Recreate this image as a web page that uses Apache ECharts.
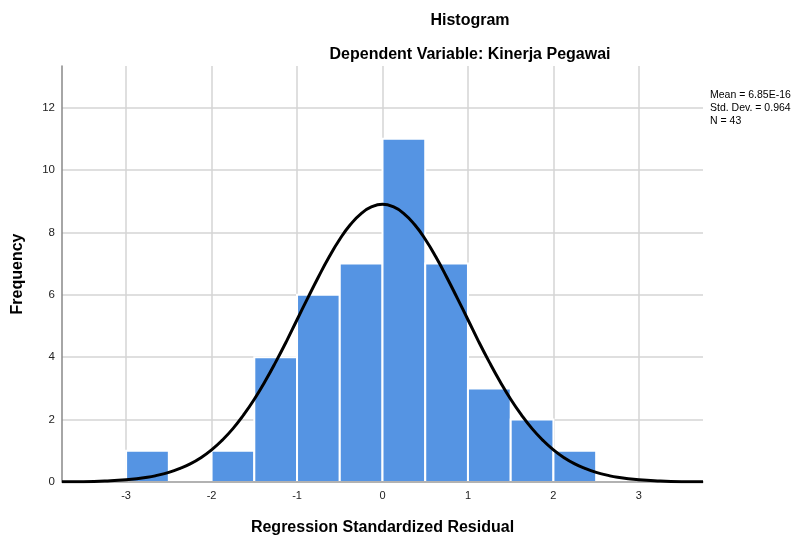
<!DOCTYPE html>
<html>
<head>
<meta charset="utf-8">
<script src="https://cdn.jsdelivr.net/npm/echarts@6/dist/echarts.min.js"></script>
<style>html,body{margin:0;padding:0;background:#fff}#c{width:806px;height:541px}</style>
</head>
<body>
<div id="c"></div>
<script>
// Histogram bins (lower edge) and frequencies
const binStarts = [-3.0, -2.5, -2.0, -1.5, -1.0, -0.5, 0.0, 0.5, 1.0, 1.5, 2.0];
const binWidth = 0.5;
const frequencies = [1, 0, 1, 4, 6, 7, 11, 7, 3, 2, 1];
// Normal curve
const curveX = [-3.75, -3.5, -3.25, -3.0, -2.75, -2.625, -2.5, -2.375, -2.25, -2.125, -2.0, -1.875, -1.75, -1.625, -1.5, -1.375,
                -1.25, -1.125, -1.0, -0.875, -0.75, -0.625, -0.5, -0.375, -0.25, -0.125, 0.0,
                0.125, 0.25, 0.375, 0.5, 0.625, 0.75, 0.875, 1.0, 1.125, 1.25, 1.375, 1.5, 1.625, 1.75, 1.875,
                2.0, 2.125, 2.25, 2.375, 2.5, 2.625, 2.75, 3.0, 3.25, 3.5, 3.75];
const curveY = [0.005, 0.01, 0.03, 0.07, 0.15, 0.22, 0.31, 0.43, 0.58, 0.78, 1.03, 1.34, 1.71, 2.15, 2.65, 3.22,
                3.84, 4.50, 5.20, 5.89, 6.57, 7.21, 7.78, 8.25, 8.60, 8.82, 8.90,
                8.82, 8.60, 8.25, 7.78, 7.21, 6.57, 5.89, 5.20, 4.50, 3.84, 3.22, 2.65, 2.15, 1.71, 1.34,
                1.03, 0.78, 0.58, 0.43, 0.31, 0.22, 0.15, 0.07, 0.03, 0.01, 0.005];
const xTickValues = [-3, -2, -1, 0, 1, 2, 3];
const yTickValues = [0, 2, 4, 6, 8, 10, 12];
const statsLines = ['Mean = 6.85E-16', 'Std. Dev. = 0.964', 'N = 43'];

const FONT = '"Liberation Sans", Arial, sans-serif';
const chart = echarts.init(document.getElementById('c'), null, {renderer: 'canvas'});

const barData = binStarts.map((s, i) => [s, s + binWidth, frequencies[i]]);
const curveData = curveX.map((x, i) => [x, curveY[i]]);
const gridLineData = xTickValues.map(v => ({xAxis: v}))
  .concat(yTickValues.filter(v => v > 0).map(v => ({yAxis: v})));

chart.setOption({
  animation: false,
  backgroundColor: '#ffffff',
  title: [
    {text: 'Histogram', left: 465, top: 8, textAlign: 'center',
     textStyle: {fontFamily: FONT, fontSize: 16, fontWeight: 'bold', color: '#000'}},
    {text: 'Dependent Variable: Kinerja Pegawai', left: 465, top: 42, textAlign: 'center',
     textStyle: {fontFamily: FONT, fontSize: 16, fontWeight: 'bold', color: '#000'}}
  ],
  graphic: [{
    type: 'text', left: 710, top: 89,
    style: {text: statsLines.join('\n'), fontFamily: FONT, fontSize: 10.5, lineHeight: 13, fill: '#000'}
  }],
  grid: {left: 62, right: 103, top: 66, bottom: 58},
  xAxis: {
    type: 'value', min: -3.75, max: 3.75, z: 2.5,
    name: 'Regression Standardized Residual', nameLocation: 'middle', nameGap: 38,
    nameTextStyle: {fontFamily: FONT, fontSize: 16, fontWeight: 'bold', color: '#000'},
    axisLine: {show: true, onZero: false, lineStyle: {color: '#999', width: 1.5}},
    axisTick: {show: false},
    splitLine: {show: false},
    axisLabel: {fontFamily: FONT, fontSize: 11, color: '#222', margin: 8,
      customValues: xTickValues, formatter: v => String(v)}
  },
  yAxis: {
    type: 'value', min: 0, max: 13.33,
    name: 'Frequency', nameLocation: 'middle', nameGap: 36,
    nameTextStyle: {fontFamily: FONT, fontSize: 16, fontWeight: 'bold', color: '#000'},
    axisLine: {show: true, onZero: false, lineStyle: {color: '#888', width: 1.5}},
    axisTick: {show: false},
    splitLine: {show: false},
    axisLabel: {fontFamily: FONT, fontSize: 11.5, color: '#222', margin: 7,
      customValues: yTickValues, formatter: v => String(v)}
  },
  series: [
    {
      type: 'line', data: [], z: 0, silent: true,
      markLine: {
        silent: true, symbol: 'none', label: {show: false}, z: 0,
        lineStyle: {color: '#d4d4d4', width: 1.5, type: 'solid'},
        emphasis: {disabled: true},
        data: gridLineData
      }
    },
    {
      type: 'custom', z: 2, silent: true,
      renderItem: function (params, api) {
        const p0 = api.coord([api.value(0), api.value(2)]);
        const p1 = api.coord([api.value(1), 0]);
        return {
          type: 'rect',
          shape: {x: p0[0], y: p0[1], width: p1[0] - p0[0], height: p1[1] - p0[1]},
          style: {fill: '#5594e3', stroke: '#ffffff', lineWidth: 2}
        };
      },
      encode: {x: [0, 1], y: 2},
      data: barData
    },
    {
      type: 'line', z: 3, silent: true, smooth: true, symbol: 'none',
      lineStyle: {color: '#000', width: 3},
      data: curveData
    }
  ]
});
</script>
</body>
</html>
